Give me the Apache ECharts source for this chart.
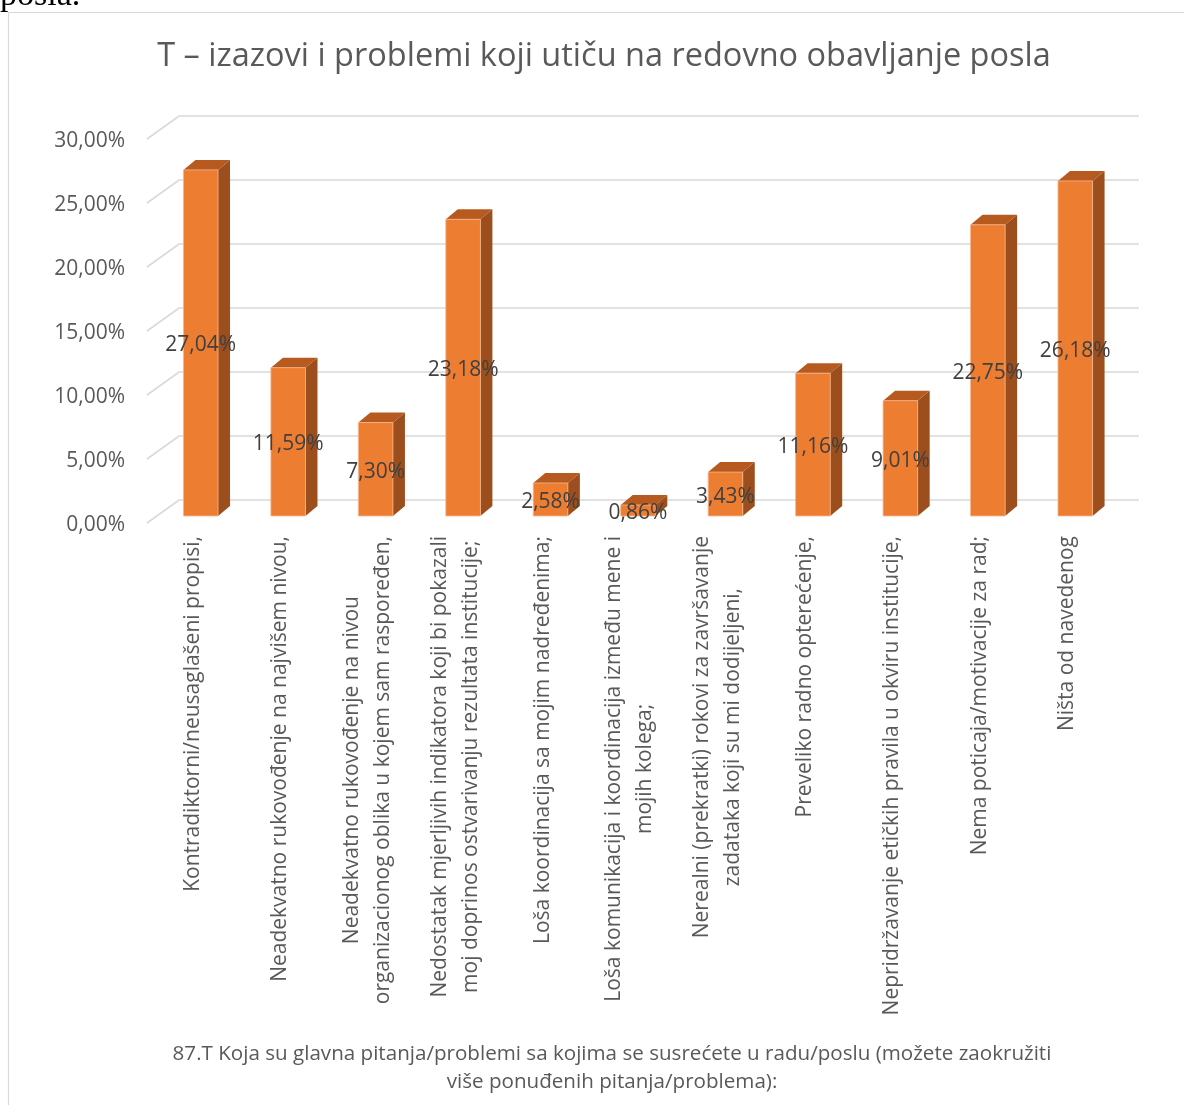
<!DOCTYPE html>
<html>
<head>
<meta charset="utf-8">
<script src="https://cdn.jsdelivr.net/npm/echarts@6/dist/echarts.min.js"></script>
<style>
html,body{margin:0;padding:0;background:#fff;}
#chart{width:1184px;height:1105px;}
</style>
</head>
<body>
<div id="chart"></div>
<script>
const titleText = 'T – izazovi i problemi koji utiču na redovno obavljanje posla';
const footerLines = ['87.T Koja su glavna pitanja/problemi sa kojima se susrećete u radu/poslu (možete zaokružiti', 'više ponuđenih pitanja/problema):'];
const categories = [
  'Kontradiktorni/neusaglašeni propisi,',
  'Neadekvatno rukovođenje na najvišem nivou,',
  'Neadekvatno rukovođenje na nivou\norganizacionog oblika u kojem sam raspoređen,',
  'Nedostatak mjerljivih indikatora koji bi pokazali\nmoj doprinos ostvarivanju rezultata institucije;',
  'Loša koordinacija sa mojim nadređenima;',
  'Loša komunikacija i koordinacija između mene i\nmojih kolega;',
  'Nerealni (prekratki) rokovi za završavanje\nzadataka koji su mi dodijeljeni,',
  'Preveliko radno opterećenje,',
  'Nepridržavanje etičkih pravila u okviru institucije,',
  'Nema poticaja/motivacije za rad;',
  'Ništa od navedenog'
];
const values = [27.04, 11.59, 7.30, 23.18, 2.58, 0.86, 3.43, 11.16, 9.01, 22.75, 26.18];
const yTicks = [0, 5, 10, 15, 20, 25, 30];

const fmtPct = v => v.toFixed(2).replace('.', ',') + '%';
const FONT = '"Open Sans", "Noto Sans", sans-serif';
const catFont = '21px ' + FONT;
const mctx = document.createElement('canvas').getContext('2d');
function textW(s, font) { mctx.font = font; return mctx.measureText(s).width; }
function blockWidth(t) {
  return Math.max.apply(null, t.split('\n').map(s => textW(s, catFont)));
}
const footSize = Math.min(22, 18 * 878 / textW(footerLines[0], '18px ' + FONT));
const titleSize = Math.min(34, 30 * 893 / textW(titleText, '30px ' + FONT));

const chart = echarts.init(document.getElementById('chart'), null, {renderer: 'canvas'});
const DX = 12, DY = -10, HALF = 17.3;

chart.setOption({
  animation: false,
  backgroundColor: '#fff',
  graphic: [
    {type: 'text', x: 0, y: 13, z: -20, silent: true, style: {text: 'posla.', font: '34px "Liberation Serif", serif', fill: '#000', verticalAlign: 'bottom'}},
    {type: 'rect', shape: {x: 8.5, y: 12.5, width: 1300, height: 1300}, style: {fill: '#fff', stroke: '#D9D9D9', lineWidth: 1.2}, z: -10, silent: true},
    {type: 'text', x: 604, y: 57, style: {text: titleText, font: titleSize.toFixed(1) + 'px ' + FONT, fill: '#595959', align: 'center', verticalAlign: 'middle'}},
    {type: 'text', x: 612, y: 1054, style: {text: footerLines[0], font: footSize.toFixed(1) + 'px ' + FONT, fill: '#595959', align: 'center', verticalAlign: 'middle'}},
    {type: 'text', x: 612, y: 1082, style: {text: footerLines[1], font: footSize.toFixed(1) + 'px ' + FONT, fill: '#595959', align: 'center', verticalAlign: 'middle'}}
  ],
  grid: {left: 157, right: 65, top: 132, bottom: 589, containLabel: false},
  xAxis: {
    type: 'category', data: categories, boundaryGap: true,
    axisLine: {show: false}, axisTick: {show: false}, axisLabel: {show: false}, splitLine: {show: false}
  },
  yAxis: {
    type: 'value', min: 0, max: 30, interval: 5,
    axisLine: {show: false}, axisTick: {show: false}, splitLine: {show: false}, axisLabel: {show: false}
  },
  series: [
    {
      type: 'custom', z: 1, silent: true,
      data: yTicks.map(v => [0, v]),
      renderItem: function (params, api) {
        const v = api.value(1);
        const y = api.coord([0, v])[1];
        const cs = params.coordSys;
        return {
          type: 'group',
          children: [
            {type: 'polyline',
             shape: {points: [[cs.x - 10, y + 7], [cs.x + 22, y - 16], [cs.x + cs.width + 20, y - 16]]},
             style: {stroke: '#D9D9D9', lineWidth: 1.6, fill: null}},
            {type: 'text', x: cs.x - 32, y: y + 9,
             style: {text: fmtPct(v), font: '21px ' + FONT, fill: '#595959', align: 'right', verticalAlign: 'middle'}}
          ]
        };
      }
    },
    {
      type: 'custom', z: 2, silent: true,
      data: values.map((v, i) => [i, v]),
      renderItem: function (params, api) {
        const i = api.value(0), v = api.value(1);
        const p0 = api.coord([i, 0]), p1 = api.coord([i, v]);
        const xl = p0[0] - HALF, xr = p0[0] + HALF, yt = p1[1], yb = p0[1];
        return {
          type: 'group',
          children: [
            {type: 'polygon', shape: {points: [[xr, yt], [xr + DX, yt + DY], [xr + DX, yb + DY], [xr, yb]]}, style: {fill: '#9C4E1C'}},
            {type: 'polygon', shape: {points: [[xl, yt], [xl + DX, yt + DY], [xr + DX, yt + DY], [xr, yt]]}, style: {fill: '#B65A20'}},
            {type: 'rect', shape: {x: xl, y: yt, width: xr - xl, height: yb - yt}, style: {fill: '#ED7D31', stroke: '#F6B88F', lineWidth: 0.8}},
            {type: 'text', x: p0[0], y: (yt + yb) / 2 + 2.5, z2: 10,
             style: {text: fmtPct(v), font: '21px ' + FONT, fill: '#404040', align: 'center', verticalAlign: 'middle'}}
          ]
        };
      }
    },
    {
      type: 'custom', z: 3, silent: true,
      data: categories.map((c, i) => [i, 0]),
      renderItem: function (params, api) {
        const i = api.value(0);
        const p = api.coord([i, 0]);
        const t = categories[i];
        const w = blockWidth(t);
        return {
          type: 'text', x: p[0] - 8, y: 536 + w / 2, rotation: Math.PI / 2,
          style: {text: t, font: catFont, fill: '#595959', align: 'center', verticalAlign: 'middle', lineHeight: 31}
        };
      }
    }
  ]
});
</script>
</body>
</html>
